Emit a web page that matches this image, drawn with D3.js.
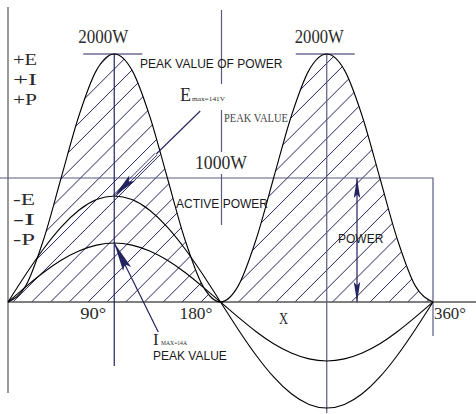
<!DOCTYPE html>
<html>
<head>
<meta charset="utf-8">
<script src="https://cdn.jsdelivr.net/npm/d3@7/dist/d3.min.js"></script>
<style>
  body { margin: 0; background: #fff; }
  svg { display: block; }
</style>
</head>
<body>
<svg id="chart" width="476" height="414"></svg>
<script>
// Phase angle (degrees) over one full cycle
const angles  = [0, 15, 30, 45, 60, 75, 90, 105, 120, 135, 150, 165, 180,
                 195, 210, 225, 240, 255, 270, 285, 300, 315, 330, 345, 360];
// Instantaneous power (W)
const power   = [0, 130, 500, 1000, 1500, 1870, 2000, 1870, 1500, 1000, 500, 130, 0,
                 130, 500, 1000, 1500, 1870, 2000, 1870, 1500, 1000, 500, 130, 0];
// Voltage E (V)
const emf     = [0, 36.5, 70.5, 99.7, 122.1, 136.2, 141, 136.2, 122.1, 99.7, 70.5, 36.5, 0,
                 -36.5, -70.5, -99.7, -122.1, -136.2, -141, -136.2, -122.1, -99.7, -70.5, -36.5, 0];
// Current I (A)
const current = [0, 3.6, 7, 9.9, 12.1, 13.5, 14, 13.5, 12.1, 9.9, 7, 3.6, 0,
                 -3.6, -7, -9.9, -12.1, -13.5, -14, -13.5, -12.1, -9.9, -7, -3.6, 0];

const peakPower = 2000, activePower = 1000, peakEmf = 141, peakCurrent = 14;
const angleTicks = [90, 180, 360];
const angleTickLabels = ["90°", "180°", "360°"];
const signLabelsPos = ["+E", "+I", "+P"];
const signLabelsNeg = ["-E", "-I", "-P"];

const svg = d3.select("#chart");
const W = 476, H = 414;

// Scales: shared angle axis, one vertical scale per quantity on a common baseline
const x  = d3.scaleLinear().domain([0, 360]).range([8, 433]);
const baseY = 302;
const yP = d3.scaleLinear().domain([0, peakPower]).range([baseY, 54]);
const yE = d3.scaleLinear().domain([0, peakEmf]).range([baseY, 196]);
const yI = d3.scaleLinear().domain([0, peakCurrent]).range([baseY, 243]);

const NAVY = "#23235e";
const GUIDE = "#5a5a82";
const SERIF = "'Liberation Serif', 'Times New Roman', serif";
const SANS = "'Liberation Sans', Arial, sans-serif";

const rows = angles.map((a, i) => ({ a, p: power[i], e: emf[i], i: current[i] }));

// ---- Hatched power area ----
const powerArea = d3.area()
  .x(d => x(d.a)).y0(baseY).y1(d => yP(d.p))
  .curve(d3.curveMonotoneX);

svg.append("defs").append("clipPath").attr("id", "powerClip")
  .append("path").attr("d", powerArea(rows));

const hatchStep = 18.8;
const hatchG = svg.append("g").attr("clip-path", "url(#powerClip)");
const hatchStarts = d3.range(12.9 - 14 * hatchStep, x(360) + 1, hatchStep);
hatchG.selectAll("line").data(hatchStarts).join("line")
  .attr("x1", c => c).attr("y1", baseY)
  .attr("x2", c => c + 260).attr("y2", baseY - 260)
  .attr("stroke", NAVY).attr("stroke-width", 1);

// ---- Axes ----
svg.append("line")
  .attr("x1", x(0)).attr("y1", 7).attr("x2", x(0)).attr("y2", 393)
  .attr("stroke", "#808080").attr("stroke-width", 1.6);
svg.append("line")
  .attr("x1", x(0)).attr("y1", baseY).attr("x2", W).attr("y2", baseY)
  .attr("stroke", "#555").attr("stroke-width", 1.5);

// ---- Guide lines ----
// active power level, closing down at 360°
svg.append("path")
  .attr("d", `M0,${yP(activePower)} H${x(360)} V${baseY + 34}`)
  .attr("fill", "none").attr("stroke", GUIDE).attr("stroke-width", 1.2);
// peak verticals
svg.append("line")
  .attr("x1", x(90)).attr("y1", yP(peakPower)).attr("x2", x(90)).attr("y2", 366)
  .attr("stroke", NAVY).attr("stroke-width", 1.2);
svg.append("line")
  .attr("x1", x(270)).attr("y1", yP(peakPower)).attr("x2", x(270)).attr("y2", 413)
  .attr("stroke", GUIDE).attr("stroke-width", 1.2);
svg.append("line")
  .attr("x1", x(180) + 1).attr("y1", 10).attr("x2", x(180) + 1).attr("y2", 225)
  .attr("stroke", GUIDE).attr("stroke-width", 1.2);
// peak caps
[90, 270].forEach(a => {
  svg.append("line")
    .attr("x1", x(a) - 31).attr("x2", x(a) + 28)
    .attr("y1", yP(peakPower)).attr("y2", yP(peakPower))
    .attr("stroke", NAVY).attr("stroke-width", 1.2);
});

// ---- Curves ----
const curveG = svg.append("g").attr("fill", "none").attr("stroke", "#000").attr("stroke-width", 1.1);
curveG.append("path").attr("d", d3.line().x(d => x(d.a)).y(d => yP(d.p)).curve(d3.curveMonotoneX)(rows));
curveG.append("path").attr("d", d3.line().x(d => x(d.a)).y(d => yE(d.e)).curve(d3.curveNatural)(rows));
curveG.append("path").attr("d", d3.line().x(d => x(d.a)).y(d => yI(d.i)).curve(d3.curveNatural)(rows));

// ---- Arrows ----
function head(tip, tail, len, half) {
  const dx = tail[0] - tip[0], dy = tail[1] - tip[1];
  const L = Math.hypot(dx, dy), ux = dx / L, uy = dy / L, px = -uy, py = ux;
  const bx = tip[0] + ux * len, by = tip[1] + uy * len;
  const nx = tip[0] + ux * len * 0.82, ny = tip[1] + uy * len * 0.82;
  return `M${tip[0]},${tip[1]} L${bx + px * half},${by + py * half} L${nx},${ny} L${bx - px * half},${by - py * half} Z`;
}
function offsetLine(a, b, off) {
  const dx = b[0] - a[0], dy = b[1] - a[1], L = Math.hypot(dx, dy);
  const px = -dy / L * off, py = dx / L * off;
  return `M${a[0] + px},${a[1] + py} L${b[0] + px},${b[1] + py}`;
}
const arrowG = svg.append("g");

// E peak arrow (double stem near the head)
const eTip = [x(90), yE(peakEmf)];
const eTail = [eTip[0] + 86, eTip[1] - 85];
const eMid = [eTip[0] + 42, eTip[1] - 42];
arrowG.append("path").attr("d", `M${eMid[0]},${eMid[1]} L${eTail[0]},${eTail[1]}`)
  .attr("stroke", NAVY).attr("stroke-width", 1.1).attr("fill", "none");
arrowG.append("path").attr("d", offsetLine(eTip, eMid, 1.3) + offsetLine(eTip, eMid, -1.3))
  .attr("stroke", NAVY).attr("stroke-width", 0.9).attr("fill", "none");
arrowG.append("path").attr("d", head(eTip, eTail, 25, 4)).attr("fill", NAVY);

// I peak arrow
const iTip = [x(90), yI(peakCurrent)];
const iTail = [iTip[0] + 44, iTip[1] + 89];
arrowG.append("path").attr("d", `M${iTip[0]},${iTip[1]} L${iTail[0]},${iTail[1]}`)
  .attr("stroke", NAVY).attr("stroke-width", 1.2).attr("fill", "none");
arrowG.append("path").attr("d", head(iTip, iTail, 29, 4.5)).attr("fill", NAVY);

// POWER double-headed arrow between active level and baseline
const pX = 357;
const pTop = [pX, yP(activePower)], pBot = [pX, baseY];
arrowG.append("line").attr("x1", pX).attr("x2", pX).attr("y1", pTop[1]).attr("y2", pBot[1])
  .attr("stroke", NAVY).attr("stroke-width", 1.2);
arrowG.append("path").attr("d", head(pTop, pBot, 20, 3.2)).attr("fill", NAVY);
arrowG.append("path").attr("d", head(pBot, pTop, 20, 3.2)).attr("fill", NAVY);

// ---- Text ----
function serifText(txt, tx, ty, size, len) {
  const t = svg.append("text").attr("x", tx).attr("y", ty)
    .attr("font-family", SERIF).attr("font-size", size).attr("fill", "#2a2a2a").text(txt);
  if (len) t.attr("textLength", len).attr("lengthAdjust", "spacingAndGlyphs");
  return t;
}
function sansText(txt, tx, ty, size) {
  return svg.append("text").attr("x", tx).attr("y", ty)
    .attr("font-family", SANS).attr("font-size", size).attr("fill", "#1a1a1a").text(txt);
}

// white backing behind labels that sit on the 180° guide
svg.append("rect").attr("x", 178).attr("y", 84).attr("width", 48).attr("height", 26).attr("fill", "#fff");
svg.append("rect").attr("x", 194).attr("y", 152).attr("width", 54).attr("height", yP(activePower) - 156).attr("fill", "#fff");

serifText(peakPower + "W", x(90) - 36, 43, 18, 50);
serifText(peakPower + "W", x(270) - 32, 43, 18, 49);
serifText(activePower + "W", 195, 169, 18, 52);

signLabelsPos.forEach((s, k) => serifText(s, 13, 65 + k * 20, 16, 24));
signLabelsNeg.forEach((s, k) => serifText(s, 13, 205 + k * 20, 16, 22));

sansText("PEAK VALUE OF POWER", 140, 68, 12);
sansText("ACTIVE POWER", 176, 208, 12);
sansText("POWER", 338, 243, 12);
sansText("PEAK VALUE", 153, 360, 12);

// E max label
serifText("E", 180, 101, 18);
serifText("max=141V", 192, 101, 6.5, 33);
serifText("PEAK VALUE", 224, 122, 12, 64).attr("fill", "#444");

// I max label
serifText("I", 153, 345, 17);
serifText("MAX=14A", 161, 345, 6.5, 26);

// angle labels
angleTicks.forEach((a, k) => {
  if (a === 360) serifText(angleTickLabels[k], x(a) + 1, 319, 17, 32);
  else serifText(angleTickLabels[k], x(a) - 8, 319, 17, a === 90 ? 26 : 33).attr("text-anchor", "end");
});
serifText("X", 279, 324, 16, 9);
</script>
</body>
</html>
